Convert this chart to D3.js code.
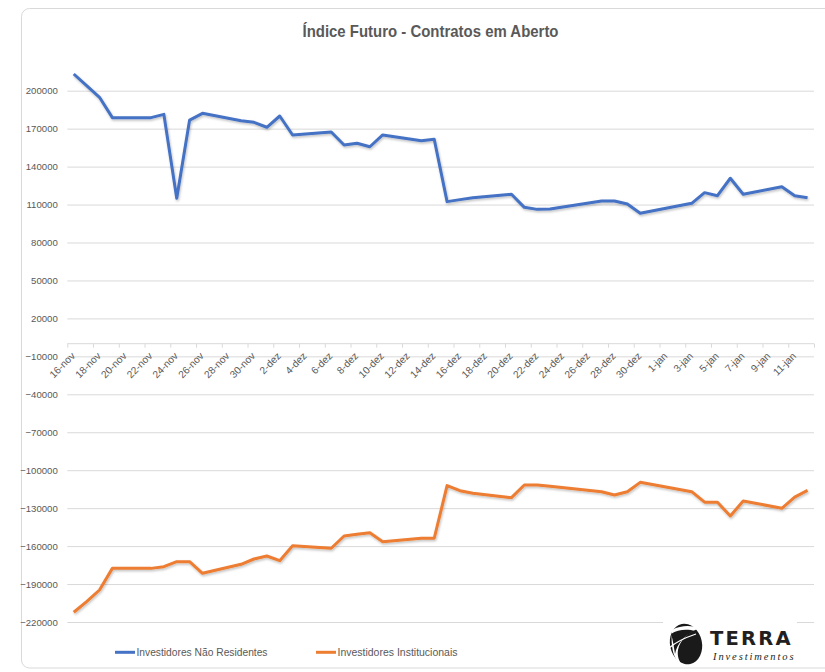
<!DOCTYPE html>
<html>
<head>
<meta charset="utf-8">
<script src="https://cdn.jsdelivr.net/npm/d3@7"></script>
<style>
  body { margin: 0; background: #fff; }
  svg text { font-family: "Liberation Sans", Arial, sans-serif; }
</style>
</head>
<body>
<svg id="chart" width="825" height="672"></svg>
<script>
const dates = [
  "2021-11-16", "2021-11-17", "2021-11-18", "2021-11-19", "2021-11-22", "2021-11-23",
  "2021-11-24", "2021-11-25", "2021-11-26", "2021-11-29", "2021-11-30", "2021-12-01",
  "2021-12-02", "2021-12-03", "2021-12-06", "2021-12-07", "2021-12-08", "2021-12-09",
  "2021-12-10", "2021-12-13", "2021-12-14", "2021-12-15", "2021-12-16", "2021-12-17",
  "2021-12-20", "2021-12-21", "2021-12-22", "2021-12-23", "2021-12-27", "2021-12-28",
  "2021-12-29", "2021-12-30", "2022-01-03", "2022-01-04", "2022-01-05", "2022-01-06",
  "2022-01-07", "2022-01-10", "2022-01-11", "2022-01-12"
];
const naoResidentes = [
  213200, 204000, 194800, 178700, 178700, 181300,
  115000, 176800, 182100, 176300, 175000, 171100,
  180000, 165000, 167400, 157100, 158400, 155700,
  165000, 160500, 161600, 112300, 113900, 115400,
  118100, 107800, 106200, 106500, 112800, 112800,
  110400, 103100, 111000, 119400, 117000, 130800,
  118100, 124100, 117000, 115400
];
const institucionais = [
  -212300, -203900, -194700, -177600, -177600, -176300,
  -172300, -172300, -181500, -174400, -170200, -167800,
  -171500, -159700, -161700, -152000, -150700, -149400,
  -156500, -153800, -153800, -112200, -116200, -118200,
  -121700, -111700, -111700, -112700, -117000, -119600,
  -117000, -109600, -117000, -125300, -125300, -136200,
  -124300, -130100, -121300, -116000
];
const seriesNames = ["Investidores Não Residentes", "Investidores Institucionais"];
const seriesColors = ["#4472C4", "#ED7D31"];
const monthAbbr = ["jan", "fev", "mar", "abr", "mai", "jun", "jul", "ago", "set", "out", "nov", "dez"];
const yTicks = d3.range(-220000, 230000, 30000);

const svg = d3.select("#chart");
const parse = d3.timeParse("%Y-%m-%d");
const days = dates.map(parse);

const axisStart = new Date(2021, 10, 16);
const axisEnd = new Date(2022, 0, 13);

const x = d3.scaleTime().domain([axisStart, axisEnd]).range([67.3, 814]);
const y = d3.scaleLinear().domain([-220000, 230000]).range([622, 52.75]);

// frame
svg.append("rect")
  .attr("x", 21.5).attr("y", 8.5)
  .attr("width", 830).attr("height", 659.5)
  .attr("rx", 8)
  .attr("fill", "#fff")
  .attr("stroke", "#d9d9d9");

// title
svg.append("text")
  .attr("x", 430.5).attr("y", 37)
  .attr("text-anchor", "middle")
  .attr("font-size", 16.5)
  .attr("font-weight", "bold")
  .attr("fill", "#595959")
  .attr("textLength", 256)
  .attr("lengthAdjust", "spacingAndGlyphs")
  .text("Índice Futuro - Contratos em Aberto");

const defs = svg.append("defs");
defs.append("filter").attr("id", "shadow")
  .attr("x", "-5%").attr("y", "-20%").attr("width", "110%").attr("height", "140%")
  .append("feDropShadow")
  .attr("dx", 0.8).attr("dy", 1.5).attr("stdDeviation", 1.2)
  .attr("flood-color", "#000").attr("flood-opacity", 0.25);

// gridlines + y labels
const yAxis = d3.axisLeft(y).tickValues(yTicks).tickSize(-(814 - 67.3)).tickFormat(d3.format("d"));
const gy = svg.append("g").attr("transform", "translate(67.3,0)").call(yAxis);
gy.select(".domain").remove();
gy.selectAll(".tick line").attr("stroke", "#d9d9d9").attr("stroke-width", 1);
gy.selectAll(".tick text")
  .attr("x", -9.5)
  .attr("font-size", 9.6)
  .attr("fill", "#595959");

// x axis at zero
const tickDays = d3.timeDay.range(axisStart, d3.timeDay.offset(axisEnd, 1), 2);
const xAxis = d3.axisBottom(x).tickValues(tickDays).tickSize(4).tickFormat("");
const gx = svg.append("g").attr("transform", `translate(0,${y(0)})`).call(xAxis);
gx.select(".domain").attr("stroke", "#d9d9d9").attr("d", `M67.3,0H814`);
gx.selectAll(".tick line").attr("stroke", "#d9d9d9");

const labelDays = tickDays.filter(d => d < axisEnd);
svg.append("g").selectAll("text")
  .data(labelDays)
  .join("text")
  .attr("transform", d => `translate(${x(d3.timeHour.offset(d, 12)) + 2},${y(0) + 13}) rotate(-45)`)
  .attr("text-anchor", "end")
  .attr("font-size", 10.2)
  .attr("fill", "#595959")
  .text(d => `${d.getDate()}-${monthAbbr[d.getMonth()]}`);

// lines
const line = d3.line()
  .x((d, i) => x(d3.timeHour.offset(days[i], 12)))
  .y(d => y(d));

[naoResidentes, institucionais].forEach((vals, k) => {
  svg.append("path")
    .datum(vals)
    .attr("d", line)
    .attr("fill", "none")
    .attr("stroke", seriesColors[k])
    .attr("stroke-width", 3)
    .attr("stroke-linejoin", "round")
    .attr("filter", "url(#shadow)");
});

// legend
const legendX = [115, 316];
const legendW = [131, 120];
const legend = svg.append("g").selectAll("g")
  .data(seriesNames)
  .join("g")
  .attr("transform", (d, i) => `translate(${legendX[i]},652.3)`);
legend.append("line")
  .attr("x1", 0).attr("x2", 20)
  .attr("stroke", (d, i) => seriesColors[i])
  .attr("stroke-width", 3);
legend.append("text")
  .attr("x", 21.5).attr("dy", "0.35em")
  .attr("font-size", 11.5)
  .attr("fill", "#595959")
  .attr("textLength", (d, i) => legendW[i])
  .attr("lengthAdjust", "spacingAndGlyphs")
  .text(d => d);

// logo
const logo = svg.append("g");
logo.append("rect")
  .attr("x", 663).attr("y", 617).attr("width", 134).attr("height", 50)
  .attr("fill", "#fff");
const icon = logo.append("g").attr("transform", "translate(686,644)");
icon.append("ellipse").attr("rx", 16).attr("ry", 20.5)
  .attr("transform", "rotate(-12)").attr("fill", "#1a1a1a");
icon.append("path")
  .attr("d", "M-14,-14 C-4,-20 8,-18 14,-16 C2,-12 -6,-4 -8,6 C-9,12 -7,17 -4,21 C-10,18 -16,8 -14,-14 Z")
  .attr("fill", "#fff");
icon.append("path")
  .attr("d", "M-15,-10 C-8,-15 2,-15 9,-13 C-2,-9 -9,0 -11,10 C-12,4 -13,-4 -15,-10 Z")
  .attr("fill", "#1a1a1a");
icon.append("path")
  .attr("d", "M-17,4 C-10,-2 -2,-6 10,-10")
  .attr("fill", "none").attr("stroke", "#fff").attr("stroke-width", 1.3);
logo.append("text")
  .attr("x", 710).attr("y", 645)
  .attr("font-weight", "bold")
  .attr("font-size", 19.5)
  .attr("letter-spacing", 2.2)
  .attr("fill", "#231f20")
  .style("font-family", "DejaVu Sans, sans-serif")
  .text("TERRA");
logo.append("text")
  .attr("x", 713).attr("y", 660)
  .attr("font-style", "italic")
  .attr("font-size", 10.5)
  .attr("letter-spacing", 1.9)
  .attr("fill", "#231f20")
  .style("font-family", "Liberation Serif, serif")
  .text("Investimentos");
</script>
</body>
</html>
